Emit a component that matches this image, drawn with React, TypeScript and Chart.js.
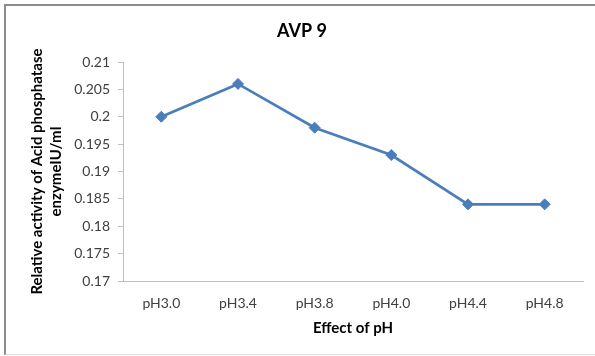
import React, { useEffect, useRef } from "react";
import { Chart, registerables } from "chart.js";

Chart.register(...registerables);

const categories = ["pH3.0", "pH3.4", "pH3.8", "pH4.0", "pH4.4", "pH4.8"];
const activity = [0.2, 0.206, 0.198, 0.193, 0.184, 0.184];
const chartTitle = "AVP 9";
const xTitle = "Effect of pH";
const yTitle = ["Relative activity of Acid phosphatase", "enzymeIU/ml"];
const yMin = 0.17;
const yMax = 0.21;
const yStep = 0.005;

const FONT = "Lato";

export default function App() {
  const ref = useRef<HTMLCanvasElement | null>(null);

  useEffect(() => {
    if (!ref.current) return;
    const titlePlugin = {
      id: "customTitle",
      afterDraw(chart: any) {
        const ctx = chart.ctx;
        ctx.save();
        ctx.font = `bold 18px ${FONT}`;
        ctx.fillStyle = "#000";
        ctx.textAlign = "center";
        ctx.textBaseline = "middle";
        ctx.fillText(chartTitle, 302, 31);
        ctx.restore();
      },
    };
    const chart = new Chart(ref.current, {
      type: "line",
      data: {
        labels: categories,
        datasets: [
          {
            data: activity,
            borderColor: "#4A7EBB",
            backgroundColor: "#4A7EBB",
            borderWidth: 2.7,
            pointStyle: "rectRot",
            pointRadius: 5.5,
            pointBorderWidth: 1,
            tension: 0,
          },
        ],
      },
      options: {
        responsive: false,
        animation: false,
        layout: { padding: { top: 62, right: 12, bottom: 0, left: 0 } },
        plugins: {
          legend: { display: false },
          title: { display: false },
          tooltip: { enabled: false },
        },
        scales: {
          x: {
            offset: true,
            grid: { display: false, drawTicks: false },
            border: { display: true, color: "#BFBFBF", width: 1 },
            ticks: {
              padding: 14,
              color: "#404040",
              font: { family: FONT, size: 14 },
              maxRotation: 0,
            },
            title: {
              display: true,
              text: xTitle,
              color: "#000",
              font: { family: FONT, size: 15, weight: "bold", lineHeight: 1.2 },
              padding: { top: 0, bottom: 19 },
            },
            afterFit(scale: any) {
              scale.height = 75;
            },
          },
          y: {
            min: yMin,
            max: yMax,
            grid: {
              display: true,
              drawOnChartArea: false,
              drawTicks: true,
              tickLength: 5,
              color: "#BFBFBF",
            },
            border: { display: true, color: "#BFBFBF", width: 1 },
            ticks: {
              stepSize: yStep,
              padding: 8,
              color: "#404040",
              font: { family: FONT, size: 14 },
              callback: (v: any) => String(Number(Number(v).toFixed(3))),
            },
            title: {
              display: true,
              text: yTitle,
              color: "#000",
              font: { family: FONT, size: 15, weight: "bold", lineHeight: 1.27 },
              padding: { top: 27.5, bottom: 0 },
            },
            afterFit(scale: any) {
              scale.width = 123;
            },
          },
        },
      },
      plugins: [titlePlugin],
    });
    return () => chart.destroy();
  }, []);

  return (
    <div style={{ position: "fixed", left: 0, top: 0, width: 595, height: 356, background: "#fff", overflow: "hidden" }}>
      <canvas ref={ref} width={595} height={356} style={{ position: "absolute", left: 0, top: 0 }} />
      <div
        style={{
          position: "absolute",
          left: 4,
          top: 4,
          width: 600,
          height: 348,
          borderLeft: "2px solid #8C8C8C",
          borderTop: "2px solid #8C8C8C",
          borderBottom: "1px solid #DCDCDC",
          pointerEvents: "none",
        }}
      />
    </div>
  );
}
